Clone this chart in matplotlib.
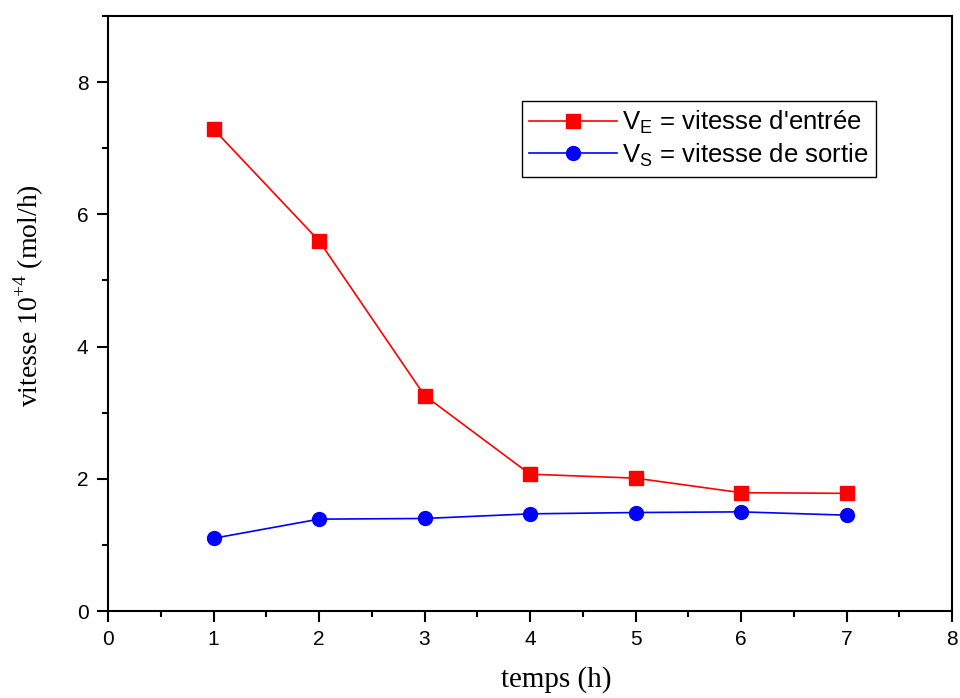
import matplotlib
matplotlib.use("Agg")
import matplotlib.pyplot as plt
from matplotlib.ticker import MultipleLocator

# Measured rates over time
temps = [1, 2, 3, 4, 5, 6, 7]
vitesse_entree = [7.29, 5.60, 3.26, 2.07, 2.01, 1.79, 1.78]
vitesse_sortie = [1.10, 1.39, 1.40, 1.47, 1.49, 1.50, 1.45]

label_entree = r"V$_{\mathregular{E}}$ = vitesse d'entrée"
label_sortie = r"V$_{\mathregular{S}}$ = vitesse de sortie"
xlabel = "temps (h)"
ylabel = r"vitesse 10$^{\mathregular{+4}}$ (mol/h)"

sans = "Liberation Sans"
serif = "Liberation Serif"

fig = plt.figure(figsize=(9.6, 6.98), dpi=100)
ax = fig.add_axes([0.1125, 0.1246, 0.8792, 0.8524])

ax.plot(temps, vitesse_entree, color="red", lw=1.2, marker="s", ms=9.5,
        mfc="red", mec="red", label=label_entree)
ax.plot(temps, vitesse_sortie, color="blue", lw=1.2, marker="o", ms=10,
        mfc="blue", mec="blue", label=label_sortie)

ax.set_xlim(0, 8)
ax.set_ylim(0, 9)
ax.xaxis.set_major_locator(MultipleLocator(1))
ax.xaxis.set_minor_locator(MultipleLocator(0.5))
ax.set_yticks([0, 2, 4, 6, 8])
ax.yaxis.set_minor_locator(MultipleLocator(1))

for s in ax.spines.values():
    s.set_linewidth(1.5)
ax.tick_params(which="both", direction="out", top=False, right=False, width=1.5)
ax.tick_params(which="major", length=8, labelsize=15, pad=6)
ax.tick_params(which="minor", length=4.5)
for lab in ax.get_xticklabels() + ax.get_yticklabels():
    lab.set_family(sans)

ax.set_xlabel(xlabel, family=serif, fontsize=21)
ax.set_ylabel(ylabel, family=serif, fontsize=20)
ax.xaxis.set_label_coords(0.531, -0.092)
ax.yaxis.set_label_coords(-0.073, 0.53)

leg = ax.legend(loc="upper left", bbox_to_anchor=(0.49, 0.857), borderaxespad=0,
                prop={"family": sans, "size": 18.5}, fancybox=False,
                edgecolor="black", framealpha=1, handlelength=3.4,
                handletextpad=0.2, labelspacing=0.2, borderpad=0.3)
leg.get_frame().set_linewidth(1.0)

fig.savefig("out.png", dpi=100)
